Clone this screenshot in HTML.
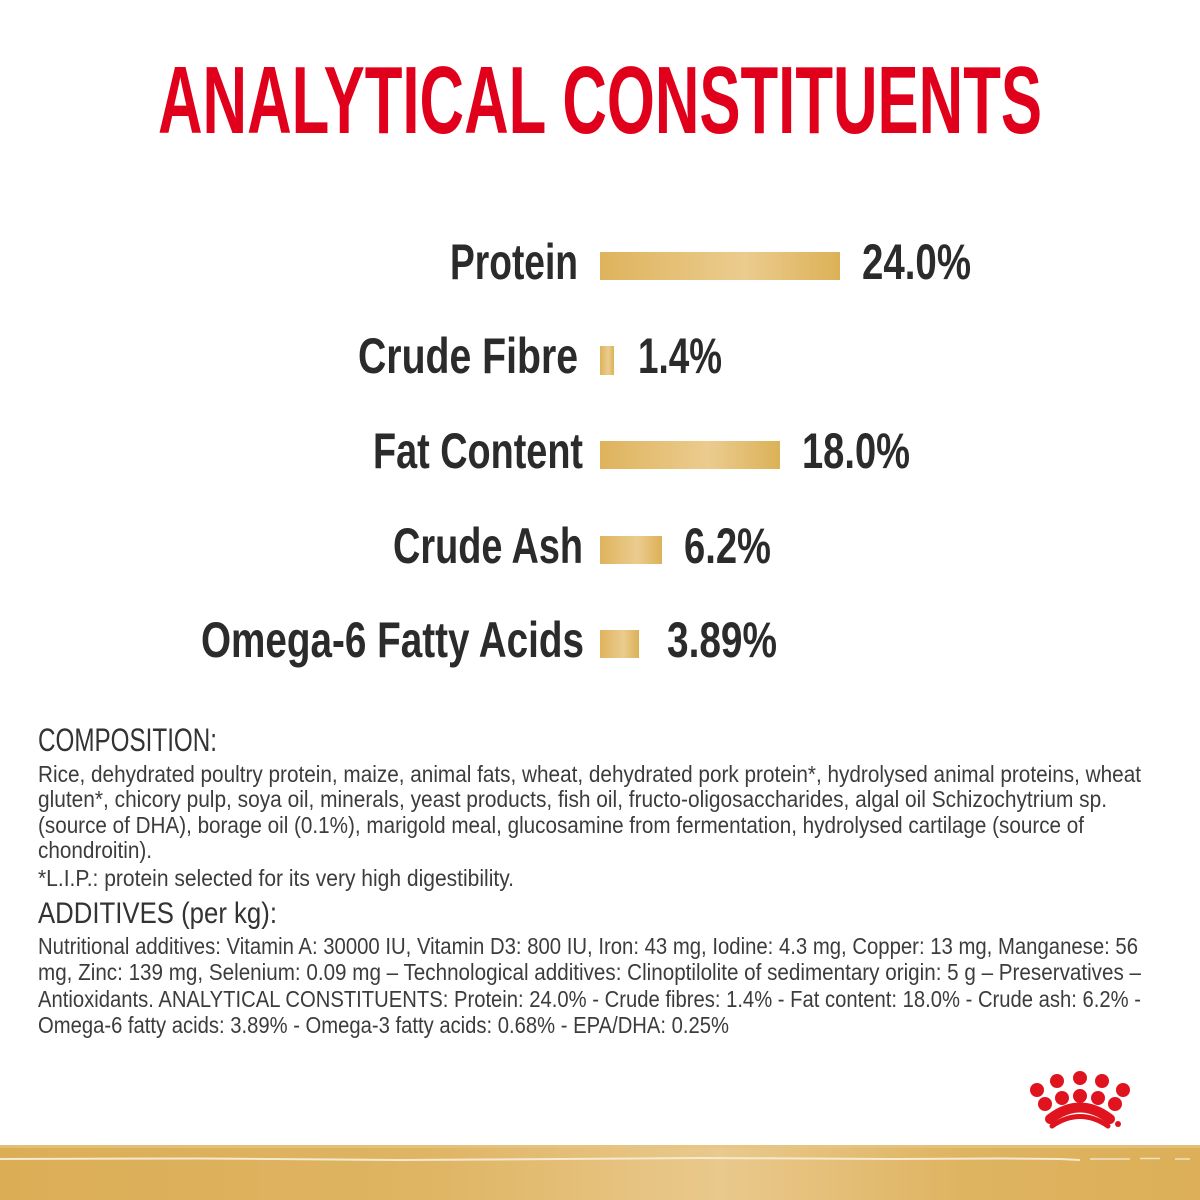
<!DOCTYPE html>
<html><head><meta charset="utf-8"><style>
html,body{margin:0;padding:0;background:#fff;}
svg{display:block;}
</style></head><body>
<svg width="1200" height="1200" viewBox="0 0 1200 1200" xmlns="http://www.w3.org/2000/svg">
<defs>
<linearGradient id="bar" x1="0" y1="0" x2="1" y2="0">
<stop offset="0" stop-color="#deb35c"/>
<stop offset="0.6" stop-color="#ebcc8f"/>
<stop offset="1" stop-color="#dcb157"/>
</linearGradient>
<linearGradient id="band" x1="0" y1="0" x2="1" y2="0">
<stop offset="0" stop-color="#dbae56"/>
<stop offset="0.35" stop-color="#dfb462"/>
<stop offset="0.6" stop-color="#e9c98c"/>
<stop offset="0.8" stop-color="#dfb461"/>
<stop offset="1" stop-color="#dcaf58"/>
</linearGradient>
</defs>
<rect width="1200" height="1200" fill="#fff"/>

<!-- Title -->
<text x="158" y="133" font-family="'Liberation Sans Narrow','Liberation Sans',sans-serif" font-weight="bold" font-size="96" fill="#e1001b" textLength="884" lengthAdjust="spacingAndGlyphs">ANALYTICAL CONSTITUENTS</text>

<!-- Bars -->
<g font-family="'Liberation Sans Narrow','Liberation Sans',sans-serif" font-weight="bold" font-size="50" fill="#2b2b2b">
<text x="450" y="279" textLength="128" lengthAdjust="spacingAndGlyphs">Protein</text>
<rect x="600" y="252" width="240" height="28" fill="url(#bar)"/>
<text x="862" y="279" textLength="109" lengthAdjust="spacingAndGlyphs">24.0%</text>

<text x="358" y="373" textLength="220" lengthAdjust="spacingAndGlyphs">Crude Fibre</text>
<rect x="600" y="346" width="14" height="29" fill="url(#bar)"/>
<text x="638" y="373" textLength="84" lengthAdjust="spacingAndGlyphs">1.4%</text>

<text x="373" y="468" textLength="210" lengthAdjust="spacingAndGlyphs">Fat Content</text>
<rect x="600" y="441" width="180" height="28" fill="url(#bar)"/>
<text x="802" y="468" textLength="108" lengthAdjust="spacingAndGlyphs">18.0%</text>

<text x="393" y="563" textLength="190" lengthAdjust="spacingAndGlyphs">Crude Ash</text>
<rect x="600" y="536" width="62" height="28" fill="url(#bar)"/>
<text x="684" y="563" textLength="87" lengthAdjust="spacingAndGlyphs">6.2%</text>

<text x="201" y="657" textLength="383" lengthAdjust="spacingAndGlyphs">Omega-6 Fatty Acids</text>
<rect x="600" y="630" width="39" height="28" fill="url(#bar)"/>
<text x="667" y="657" textLength="110" lengthAdjust="spacingAndGlyphs">3.89%</text>
</g>

<!-- Composition -->
<g font-family="'Liberation Sans Narrow','Liberation Sans',sans-serif" fill="#333">
<text x="38" y="751" font-size="32" textLength="179" lengthAdjust="spacingAndGlyphs">COMPOSITION:</text>
<g font-size="23" fill="#3c3c3c">
<text x="38" y="782" textLength="1103" lengthAdjust="spacingAndGlyphs">Rice, dehydrated poultry protein, maize, animal fats, wheat, dehydrated pork protein*, hydrolysed animal proteins, wheat</text>
<text x="38" y="807" textLength="1069" lengthAdjust="spacingAndGlyphs">gluten*, chicory pulp, soya oil, minerals, yeast products, fish oil, fructo-oligosaccharides, algal oil Schizochytrium sp.</text>
<text x="38" y="833" textLength="1046" lengthAdjust="spacingAndGlyphs">(source of DHA), borage oil (0.1%), marigold meal, glucosamine from fermentation, hydrolysed cartilage (source of</text>
<text x="38" y="858" textLength="114" lengthAdjust="spacingAndGlyphs">chondroitin).</text>
<text x="38" y="886" textLength="476" lengthAdjust="spacingAndGlyphs">*L.I.P.: protein selected for its very high digestibility.</text>
</g>
<text x="38" y="923" font-size="30" textLength="239" lengthAdjust="spacingAndGlyphs">ADDITIVES (per kg):</text>
<g font-size="23" fill="#3c3c3c">
<text x="38" y="954" textLength="1100" lengthAdjust="spacingAndGlyphs">Nutritional additives: Vitamin A: 30000 IU, Vitamin D3: 800 IU, Iron: 43 mg, Iodine: 4.3 mg, Copper: 13 mg, Manganese: 56</text>
<text x="38" y="980" textLength="1103" lengthAdjust="spacingAndGlyphs">mg, Zinc: 139 mg, Selenium: 0.09 mg – Technological additives: Clinoptilolite of sedimentary origin: 5 g – Preservatives –</text>
<text x="38" y="1007" textLength="1103" lengthAdjust="spacingAndGlyphs">Antioxidants. ANALYTICAL CONSTITUENTS: Protein: 24.0% - Crude fibres: 1.4% - Fat content: 18.0% - Crude ash: 6.2% -</text>
<text x="38" y="1033" textLength="691" lengthAdjust="spacingAndGlyphs">Omega-6 fatty acids: 3.89% - Omega-3 fatty acids: 0.68% - EPA/DHA: 0.25%</text>
</g>
</g>

<!-- Logo -->
<g fill="#e0141e">
<circle cx="1037" cy="1090" r="7"/>
<circle cx="1057" cy="1081" r="7"/>
<circle cx="1080" cy="1078" r="7"/>
<circle cx="1102" cy="1081" r="7"/>
<circle cx="1123" cy="1090" r="7"/>
<circle cx="1045" cy="1104" r="7"/>
<circle cx="1062" cy="1098" r="7"/>
<circle cx="1080" cy="1096" r="7"/>
<circle cx="1098" cy="1098" r="7"/>
<circle cx="1115" cy="1104" r="7"/>
<circle cx="1118" cy="1124" r="3"/>
</g>
<path d="M1050,1119 Q1080,1096 1110,1119" fill="none" stroke="#e0141e" stroke-width="10" stroke-linecap="round"/>
<path d="M1052,1126 Q1080,1107 1108,1126" fill="none" stroke="#e0141e" stroke-width="5" stroke-linecap="round"/>

<!-- Bottom band -->
<rect x="0" y="1145" width="1200" height="55" fill="url(#band)"/>
<rect x="0" y="1145" width="1200" height="3" fill="#e6c585" opacity="0.7"/>
<path d="M0,1159 L200,1158.5 L400,1160 L560,1159 L700,1158 L900,1159 L1000,1158.5 L1060,1159 L1080,1160" stroke="#f6e9cf" stroke-width="2" fill="none"/>
<path d="M1090,1159 L1130,1159 M1140,1158.5 L1160,1158.5 M1175,1159 L1190,1159" stroke="#f2e2c0" stroke-width="1.5" fill="none"/>
</svg>
</body></html>
